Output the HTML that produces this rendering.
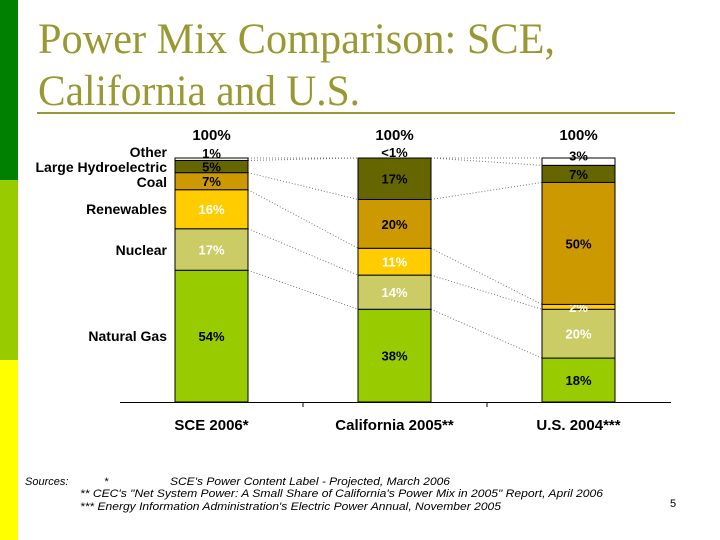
<!DOCTYPE html>
<html><head><meta charset="utf-8"><style>
body{margin:0;background:#fff;}
svg{display:block;font-family:"Liberation Sans",Arial,sans-serif;}
</style></head><body>
<svg id="c" width="720" height="540" viewBox="0 0 720 540">
<rect x="0" y="0" width="18" height="180" fill="#008000"/>
<rect x="0" y="180" width="18" height="180" fill="#99cc00"/>
<rect x="0" y="360" width="18" height="180" fill="#ffff00"/>
<g font-family="Liberation Serif, serif" fill="#999933" font-size="43">
<text x="38" y="53" textLength="517" lengthAdjust="spacingAndGlyphs">Power Mix Comparison: SCE,</text>
<text x="38" y="105" textLength="322" lengthAdjust="spacingAndGlyphs">California and U.S.</text>
</g>
<rect x="37" y="112" width="638" height="2" fill="#999933"/>
<g id="chart"></g>
<g font-size="11" font-style="italic" fill="#000">
<text x="25" y="485">Sources:</text>
<text x="104" y="485">*</text>
<text x="170" y="485" textLength="280" lengthAdjust="spacingAndGlyphs">SCE's Power Content Label - Projected, March 2006</text>
<text x="80" y="497" textLength="523" lengthAdjust="spacingAndGlyphs">**  CEC's "Net System Power: A Small Share of California's Power Mix in 2005" Report, April 2006</text>
<text x="80" y="510" textLength="421" lengthAdjust="spacingAndGlyphs">*** Energy Information Administration's Electric Power Annual, November 2005</text>
</g>
<text x="670" y="507" font-size="11">5</text>
</svg>
<script>
const categories = ["SCE 2006*", "California 2005**", "U.S. 2004***"];
const sources = ["Natural Gas", "Nuclear", "Renewables", "Coal", "Large Hydroelectric", "Other"];
const gas = [54, 38, 18];
const nuclear = [17, 14, 20];
const renewables = [16, 11, 2];
const coal = [7, 20, 50];
const hydro = [5, 17, 7];
const other = [1, 0, 3];
const otherText = ["1%", "<1%", "3%"];
const totals = ["100%", "100%", "100%"];

const series = [gas, nuclear, renewables, coal, hydro, other];
const colors = ["#99cc00", "#cccc66", "#ffcc00", "#cc9900", "#666600", "#ffffff"];
const textColors = ["#000", "#fff", "#fff", "#000", "#000", "#000"];
const NS = "http://www.w3.org/2000/svg";
const g = document.getElementById("chart");
const base = 402, top0 = 158, plotH = base - top0;
const barW = 73, slotX = [175, 358, 542];
function y(v) { return base - v / 100 * plotH; }
function mk(tag, attrs) { const e = document.createElementNS(NS, tag); for (const k in attrs) e.setAttribute(k, attrs[k]); g.appendChild(e); return e; }

const cum = categories.map((c, i) => { let s = 0; const a = [0]; series.forEach(se => { s += se[i]; a.push(s); }); return a; });

for (let i = 0; i < categories.length - 1; i++) {
  for (let k = 1; k < cum[i].length; k++) {
    const l = mk("line", {x1: slotX[i] + barW, y1: y(cum[i][k]), x2: slotX[i + 1], y2: y(cum[i + 1][k]), stroke: "#777", "stroke-width": 1, "stroke-dasharray": "1,2"});
    
    
  }
}
categories.forEach((c, i) => {
  series.forEach((se, s) => {
    const y0 = y(cum[i][s]), y1 = y(cum[i][s + 1]);
    const r = mk("rect", {x: slotX[i], y: y1, width: barW, height: Math.max(0, y0 - y1), fill: colors[s], stroke: "#000", "stroke-width": 1});
    
    
    const isOther = s === series.length - 1;
    const ty = isOther ? (y0 + y1) / 2 - 1 : (y0 + y1) / 2 + 5;
    const t = mk("text", {x: slotX[i] + barW / 2, y: ty, "text-anchor": "middle", "font-size": 13, "font-weight": "bold", fill: textColors[s]});
    t.textContent = isOther ? otherText[i] : se[i] + "%";
    
    
  });
  const tt = mk("text", {x: slotX[i] + barW / 2, y: y(cum[i][series.length]) - 18, "text-anchor": "middle", "font-size": 15, "font-weight": "bold"});
  tt.textContent = totals[i];
  
  
  const cl = mk("text", {x: slotX[i] + barW / 2, y: 430, "text-anchor": "middle", "font-size": 15, "font-weight": "bold"});
  cl.textContent = c;
  
  
});
const ax = mk("line", {x1: 120, y1: base + 0.5, x2: 671, y2: base + 0.5, stroke: "#000", "stroke-width": 1});


[303, 487].forEach(x => {
  const tk = mk("line", {x1: x, y1: base, x2: x, y2: base + 5, stroke: "#000"});
  
  
});
const legY = [336, 250, 209, 182, 167, 152];
sources.forEach((n, s) => {
  const t = mk("text", {x: 167, y: legY[s] + 5, "text-anchor": "end", "font-size": 14, "font-weight": "bold"});
  t.textContent = n;
  
  
});
</script>
</body></html>
